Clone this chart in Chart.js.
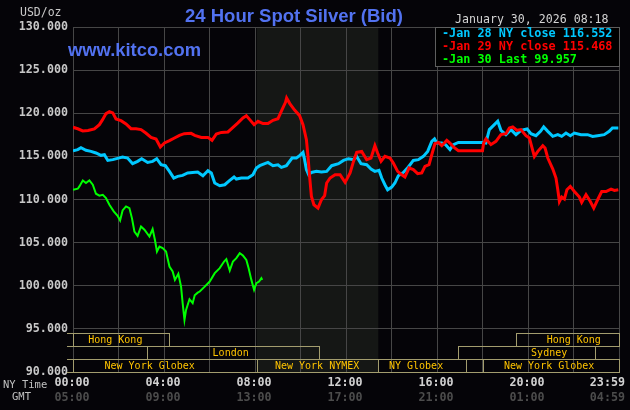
<!DOCTYPE html>
<html><head><meta charset="utf-8">
<script src="https://cdn.jsdelivr.net/npm/chart.js@4"></script>
<style>html,body{margin:0;padding:0;background:#050408;}canvas{display:block}</style>
</head><body>
<canvas id="c" width="630" height="410"></canvas>
<script>
// ---- data (hours after 00:00 NY time, price USD/oz) ----
const jan28Hours = [0,0.21,0.35,0.57,0.79,1.01,1.23,1.38,1.53,1.75,1.96,2.18,2.4,2.62,2.84,3.02,3.28,3.5,3.68,3.87,4.06,4.24,4.43,4.6,4.82,5.04,5.26,5.48,5.71,5.93,6.08,6.23,6.45,6.67,6.89,7.08,7.18,7.4,7.69,7.91,8.06,8.21,8.43,8.57,8.79,9.01,9.16,9.38,9.63,9.82,9.96,10.11,10.18,10.26,10.36,10.48,10.7,10.92,11.15,11.37,11.67,11.89,12.11,12.33,12.47,12.66,12.91,13.1,13.27,13.45,13.57,13.71,13.83,14.01,14.15,14.3,14.52,14.74,14.96,15.18,15.4,15.59,15.77,15.89,15.99,16.21,16.38,16.57,16.72,16.94,17.0,18.0,18.15,18.3,18.52,18.67,18.81,19.03,19.25,19.47,19.69,19.96,20.13,20.35,20.55,20.69,20.87,21.09,21.31,21.48,21.67,21.86,22.04,22.33,22.62,22.84,23.06,23.35,23.57,23.71,23.97];
const jan28Values = [115.66,115.78,116.01,115.7,115.58,115.39,115.12,115.19,114.53,114.62,114.77,114.93,114.81,114.15,114.42,114.73,114.3,114.42,114.73,114.03,113.92,113.26,112.49,112.68,112.79,113.07,113.14,113.18,112.76,113.34,113.07,111.91,111.6,111.71,112.21,112.61,112.37,112.49,112.49,112.87,113.65,113.92,114.15,114.3,113.92,114.03,113.72,113.92,114.81,114.81,115.08,115.46,114.62,113.46,112.87,113.14,113.26,113.18,113.26,113.92,114.15,114.53,114.73,114.62,115.0,114.15,114.03,113.53,113.26,113.38,112.49,111.71,111.13,111.44,111.91,112.76,113.14,113.77,114.53,114.62,115.0,115.58,116.74,117.02,116.55,116.55,116.36,115.78,116.36,116.62,116.62,116.62,116.55,118.1,118.68,119.07,118.02,117.52,118.1,117.52,118.02,118.18,117.63,117.4,117.9,118.41,117.9,117.32,117.52,117.32,117.71,117.4,117.71,117.52,117.52,117.32,117.4,117.52,117.9,118.3,118.3];

const jan29Hours = [0,0.21,0.43,0.66,0.94,1.16,1.3,1.45,1.6,1.75,1.89,2.11,2.33,2.55,2.77,2.99,3.2,3.43,3.65,3.84,4.02,4.24,4.46,4.68,4.89,5.19,5.35,5.64,5.93,6.11,6.3,6.52,6.81,6.96,7.25,7.47,7.62,7.77,7.96,8.13,8.35,8.57,8.79,9.01,9.19,9.34,9.39,9.53,9.75,9.96,10.11,10.26,10.33,10.4,10.48,10.59,10.77,10.92,11.06,11.15,11.3,11.52,11.74,11.96,12.18,12.33,12.47,12.69,12.91,13.1,13.27,13.39,13.54,13.71,13.93,14.08,14.27,14.45,14.59,14.77,14.96,15.15,15.33,15.47,15.65,15.77,15.91,16.06,16.21,16.43,16.57,16.72,16.94,18.0,18.05,18.15,18.37,18.59,18.81,19.03,19.18,19.33,19.52,19.69,19.91,20.06,20.16,20.28,20.43,20.65,20.75,20.87,21.09,21.23,21.31,21.38,21.48,21.6,21.71,21.86,22.04,22.26,22.36,22.55,22.74,22.89,23.06,23.24,23.43,23.65,23.8,23.97];
const jan29Values = [118.37,118.2,117.95,118.0,118.18,118.68,119.26,119.96,120.19,120.04,119.34,119.14,118.76,118.21,118.21,118.1,117.71,117.2,117.02,116.09,116.55,116.82,117.13,117.44,117.63,117.67,117.44,117.2,117.2,116.86,117.6,117.78,117.83,118.18,118.88,119.46,119.72,119.26,118.68,119.07,118.8,118.8,119.18,119.37,120.42,121.27,121.78,121.12,120.34,119.72,118.68,116.94,115.0,112.68,110.35,109.39,109.0,109.97,110.44,111.91,112.49,112.87,112.87,111.98,113.07,114.42,115.46,115.58,114.62,114.81,116.24,115.39,114.42,115.0,114.81,114.23,113.26,112.87,112.61,113.65,113.46,112.99,113.07,113.84,114.03,115.19,116.47,116.62,116.24,116.86,116.55,116.09,115.66,115.66,116.55,117.02,116.36,116.74,117.52,117.63,118.3,118.41,118.02,118.1,117.4,117.13,116.16,115.0,115.58,116.24,115.97,114.81,113.53,112.49,111.13,109.77,110.28,110.05,111.13,111.52,110.93,110.28,109.66,110.55,109.77,109.0,109.97,110.93,110.93,111.21,111.05,111.13];

const jan30Hours = [0,0.21,0.28,0.43,0.57,0.72,0.87,1.01,1.16,1.31,1.45,1.6,1.79,1.96,2.07,2.18,2.33,2.48,2.59,2.7,2.84,2.99,3.14,3.36,3.5,3.6,3.69,3.8,3.94,4.09,4.24,4.38,4.48,4.63,4.75,4.82,4.9,4.97,5.12,5.26,5.35,5.48,5.57,5.79,6.01,6.23,6.45,6.64,6.74,6.89,7.03,7.18,7.33,7.47,7.62,7.72,7.84,7.96,8.06,8.18,8.28,8.32];
const jan30Values = [111.13,111.25,111.52,112.21,111.91,112.21,111.71,110.67,110.44,110.55,110.17,109.39,108.62,108.11,107.57,108.73,109.2,109.0,107.84,106.29,105.79,106.87,106.49,105.71,106.57,105.33,103.97,104.55,104.36,103.97,102.23,101.65,100.68,101.38,99.9,97.98,96.04,97.2,98.44,97.98,98.9,99.2,99.33,99.9,100.49,101.46,102.04,102.81,103.09,101.76,102.81,103.2,103.78,103.5,103.0,102.04,100.68,99.52,100.3,100.49,100.88,100.68];

const yTickValues = [90,95,100,105,110,115,120,125,130];
const nyTimeHours = [0,4,8,12,16,20,24];
const nyTimeLabels = ['00:00','04:00','08:00','12:00','16:00','20:00','23:59'];
const gmtTimeLabels = ['05:00','09:00','13:00','17:00','21:00','01:00','04:59'];

const sessionNames   = ['Hong Kong','Hong Kong','London','Sydney','New York Globex','New York NYMEX','NY Globex','','New York Globex'];
const sessionStart   = [0,19.49,3.25,16.92,0,8.1,13.39,17.29,18.02];
const sessionEnd     = [4.24,24,10.81,22.96,8.1,13.39,17.29,18.02,24];
const sessionRow     = [0,0,1,1,2,2,2,2,2];
const sessionLabelAt = [1.86,22.01,6.93,20.93,3.37,10.73,15.08,null,20.93];
const sessionRowTop    = [94.5,93,91.5];
const sessionRowBottom = [93,91.5,90];
const shadeStart = 8.08, shadeEnd = 13.42;

const legendLabels = ['-Jan 28 NY close 116.552','-Jan 29 NY close 115.468','-Jan 30 Last 99.957'];
const titleText = '24 Hour Spot Silver (Bid)';
const siteText = 'www.kitco.com';
const dateText = 'January 30, 2026 08:18';
const unitText = 'USD/oz';

// ---- styles ----
const BG = '#050408', GRID = '#464646', SHADE = '#151715';
const BLUE = '#00c8ff', RED = '#ff0000', GREEN = '#00ff00';
const TAN = '#a39d6e', AMBER = '#ffc400';
const MONO = '"DejaVu Sans Mono", monospace';

function mk(hours, values, color, w, order) {
  return { data: hours.map((h, i) => ({ x: h, y: values[i] })), borderColor: color, borderWidth: w,
    pointRadius: 0, tension: 0, fill: false, order: order, borderJoinStyle: 'miter' };
}
function fitSize(ctx, text, weight, family, targetW) {
  ctx.font = weight + ' 20px ' + family;
  return 20 * targetW / ctx.measureText(text).width;
}
const crisp = v => Math.round(v) + 0.5;

const decor = {
  id: 'decor',
  beforeDraw(chart) {
    const { ctx, chartArea: a, scales: { x } } = chart;
    ctx.save();
    ctx.fillStyle = BG; ctx.fillRect(0, 0, chart.width, chart.height);
    ctx.fillStyle = SHADE;
    const x0 = x.getPixelForValue(shadeStart), x1 = x.getPixelForValue(shadeEnd);
    ctx.fillRect(x0, a.top, x1 - x0, a.bottom - a.top);
    ctx.restore();
  },
  afterDraw(chart) {
    const { ctx, chartArea: a, scales: { x, y } } = chart;
    ctx.save();
    // session boxes
    ctx.strokeStyle = TAN; ctx.lineWidth = 1;
    for (let i = 0; i < sessionNames.length; i++) {
      const l = crisp(x.getPixelForValue(sessionStart[i])), r = crisp(x.getPixelForValue(sessionEnd[i]));
      const t = crisp(y.getPixelForValue(sessionRowTop[sessionRow[i]])), b = crisp(y.getPixelForValue(sessionRowBottom[sessionRow[i]]));
      ctx.strokeRect(l, t, r - l, b - t);
    }
    // little row ticks at left
    [94.5, 93, 91.5, 90].forEach(v => {
      const yy = crisp(y.getPixelForValue(v));
      ctx.beginPath(); ctx.moveTo(a.left - 6, yy); ctx.lineTo(a.left, yy); ctx.stroke();
    });
    ctx.fillStyle = AMBER; ctx.font = '10px ' + MONO; ctx.textAlign = 'center'; ctx.textBaseline = 'middle';
    for (let i = 0; i < sessionNames.length; i++) {
      if (!sessionNames[i]) continue;
      const r = sessionRow[i];
      const yy = (y.getPixelForValue(sessionRowTop[r]) + y.getPixelForValue(sessionRowBottom[r])) / 2 + 0.5;
      ctx.fillText(sessionNames[i], x.getPixelForValue(sessionLabelAt[i]), yy);
    }
    // time labels
    ctx.font = 'bold 11.7px ' + MONO; ctx.textBaseline = 'middle';
    nyTimeHours.forEach((h, i) => {
      const px = x.getPixelForValue(h) - 1;
      const last = i === nyTimeHours.length - 1;
      ctx.textAlign = last ? 'right' : 'center';
      const tx = last ? chart.width - 5 : px;
      ctx.fillStyle = '#d2d2d2'; ctx.fillText(nyTimeLabels[i], tx, 383);
      ctx.fillStyle = '#4c4c4c'; ctx.fillText(gmtTimeLabels[i], tx, 397.5);
    });
    ctx.font = '10.5px ' + MONO; ctx.textAlign = 'left';
    ctx.fillStyle = '#c0c0c0'; ctx.fillText('NY Time', 3, 385);
    ctx.fillText('GMT', 12, 397.5);
    ctx.font = '11.5px ' + MONO; ctx.fillStyle = '#c8c8c8';
    ctx.fillText(unitText, 20, 13.5);
    // title
    const tf = '"Liberation Sans", Arial, sans-serif';
    ctx.fillStyle = '#5272f0'; ctx.textBaseline = 'alphabetic';
    ctx.font = 'bold ' + fitSize(ctx, titleText, 'bold', tf, 218).toFixed(2) + 'px ' + tf;
    ctx.textAlign = 'center'; ctx.fillText(titleText, 294, 21.5);
    ctx.font = 'bold ' + fitSize(ctx, siteText, 'bold', tf, 133).toFixed(2) + 'px ' + tf;
    ctx.textAlign = 'left'; ctx.fillText(siteText, 68, 56);
    // date
    ctx.font = '11.6px ' + MONO; ctx.fillStyle = '#d4d4d4'; ctx.textBaseline = 'middle';
    ctx.fillText(dateText, 455, 20);
    // legend box
    const lx = crisp(a.right - 184), ly = crisp(a.top), lr = crisp(a.right), lb = crisp(a.top + 38.5);
    ctx.fillStyle = '#000000'; ctx.fillRect(lx, ly, lr - lx, lb - ly);
    ctx.strokeStyle = '#5e5e5e'; ctx.strokeRect(lx, ly, lr - lx, lb - ly);
    ctx.font = 'bold 11.8px ' + MONO;
    [BLUE, RED, GREEN].forEach((c, i) => {
      ctx.fillStyle = c; ctx.fillText(legendLabels[i], lx + 6.5, a.top + 6.5 + i * 13);
    });
    ctx.restore();
  }
};

new Chart(document.getElementById('c'), {
  type: 'line',
  data: { datasets: [
    mk(jan30Hours, jan30Values, GREEN, 2, 0),
    mk(jan29Hours, jan29Values, RED, 3, 1),
    mk(jan28Hours, jan28Values, BLUE, 3, 2)
  ] },
  options: {
    responsive: false, animation: false, devicePixelRatio: 1,
    layout: { padding: { top: 27, right: 11, left: 0, bottom: 0 } },
    plugins: { legend: { display: false }, tooltip: { enabled: false } },
    scales: {
      x: { type: 'linear', min: 0, max: 24,
        ticks: { display: false, stepSize: 2 },
        grid: { color: GRID, drawTicks: false, lineWidth: 1 },
        border: { display: true, color: GRID },
        afterFit: s => { s.height = 38; } },
      y: { type: 'linear', min: 90, max: 130,
        afterBuildTicks: s => { s.ticks = yTickValues.map(v => ({ value: v })); },
        ticks: { padding: 5, color: '#c8c8c8', font: { family: 'DejaVu Sans Mono', size: 11.7, weight: 'bold' },
          callback: v => Number(v).toFixed(3) },
        grid: { color: GRID, drawTicks: false, lineWidth: 1 },
        border: { display: true, color: GRID },
        afterFit: s => { s.width = 73; } }
    }
  },
  plugins: [decor]
});
</script>
</body></html>
